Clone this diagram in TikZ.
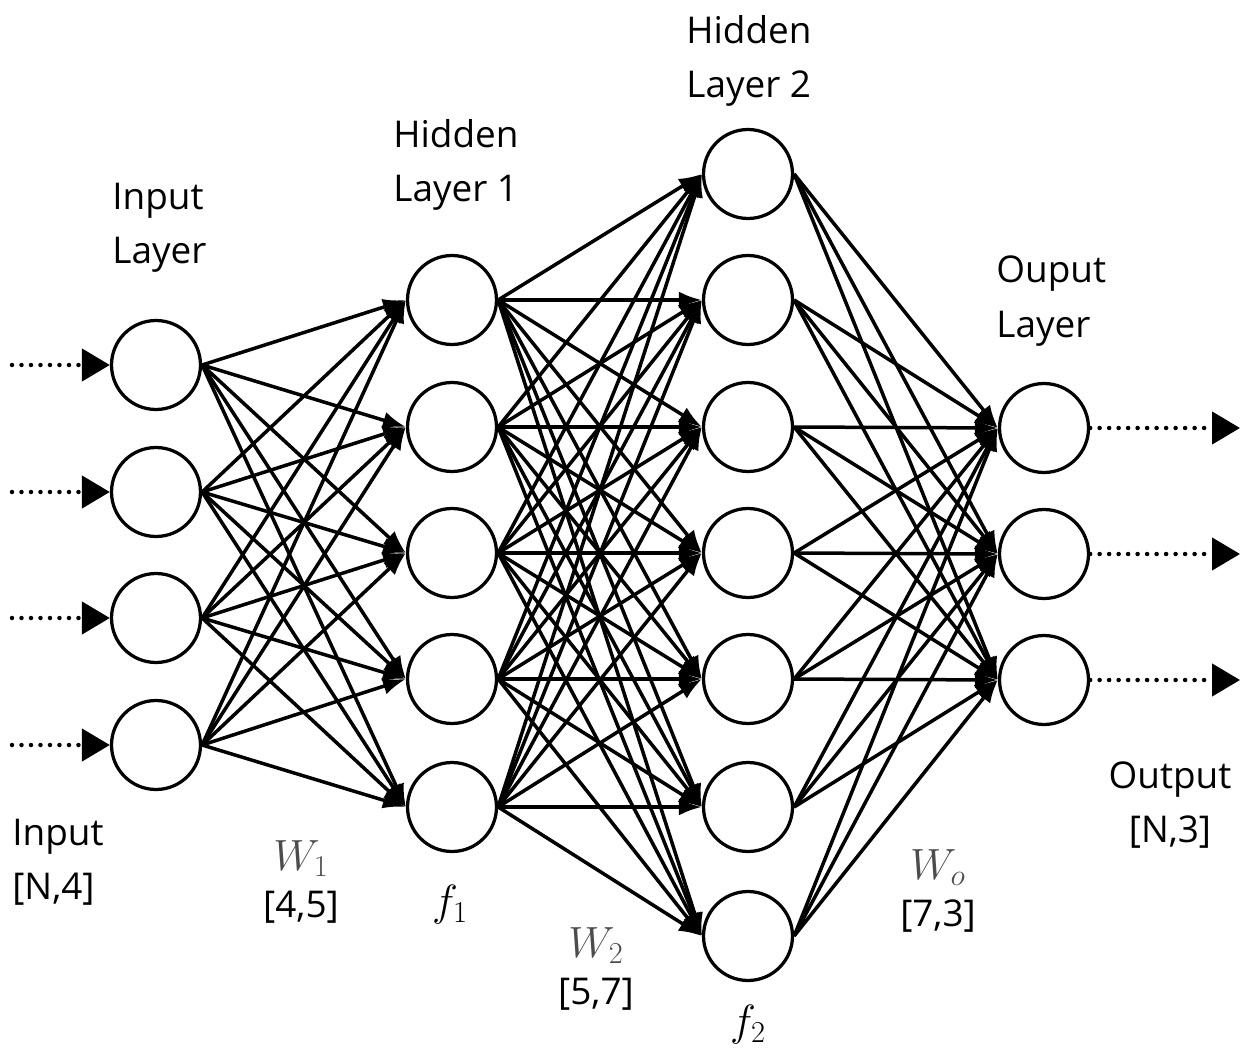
\documentclass[tikz,border=0pt]{standalone}
\usepackage{fontspec}
\setmainfont{Open Sans}
\usetikzlibrary{arrows.meta}

\begin{document}
\begin{tikzpicture}[x=0.02cm,y=-0.02cm]
            \tikzset{neuron/.style={draw=black,circle,line width=0.065cm,minimum size=1.78cm,inner sep=0pt},
                     link/.style={draw=black,line width=0.07cm,-{Latex[length=0.46cm,width=0.34cm]}},
                     feed/.style={draw=black,line width=0.09cm,line cap=round,dash pattern=on 0pt off 0.19cm,-{Triangle[length=0.56cm,width=0.64cm]}},
                     lbl/.style={inner sep=0pt,font=\fontsize{21}{31}\selectfont},
                     mathlbl/.style={inner sep=0pt,align=center,font=\fontsize{25}{27}\selectfont}}
            \useasboundingbox (0,0) rectangle (1250,1057);
            % input layer
            \node [neuron] (in1) at (156,365) {};
            \node [neuron] (in2) at (156,492) {};
            \node [neuron] (in3) at (156,618) {};
            \node [neuron] (in4) at (156,745) {};
            % hidden layer 1
            \node [neuron] (ha1) at (452,300) {};
            \node [neuron] (ha2) at (452,427) {};
            \node [neuron] (ha3) at (452,553) {};
            \node [neuron] (ha4) at (452,679) {};
            \node [neuron] (ha5) at (452,807) {};
            % hidden layer 2
            \node [neuron] (hb1) at (748,174) {};
            \node [neuron] (hb2) at (748,300) {};
            \node [neuron] (hb3) at (748,427) {};
            \node [neuron] (hb4) at (748,553) {};
            \node [neuron] (hb5) at (748,679) {};
            \node [neuron] (hb6) at (748,807) {};
            \node [neuron] (hb7) at (748,936) {};
            % output layer
            \node [neuron] (out1) at (1044,428) {};
            \node [neuron] (out2) at (1044,554) {};
            \node [neuron] (out3) at (1044,680) {};
            % free ends of the dotted arrows
            \coordinate (src1) at (12,365);
            \coordinate (src2) at (12,492);
            \coordinate (src3) at (12,618);
            \coordinate (src4) at (12,745);
            \coordinate (dst1) at (1240,428);
            \coordinate (dst2) at (1240,554);
            \coordinate (dst3) at (1240,680);
            \draw [feed] (src1) -- (in1.west);
            \draw [feed] (src2) -- (in2.west);
            \draw [feed] (src3) -- (in3.west);
            \draw [feed] (src4) -- (in4.west);
            \draw [feed] (out1.east) -- (dst1);
            \draw [feed] (out2.east) -- (dst2);
            \draw [feed] (out3.east) -- (dst3);
            % input -> hidden 1
            \draw [link] (in1.east) -- (ha1.west);
            \draw [link] (in1.east) -- (ha2.west);
            \draw [link] (in1.east) -- (ha3.west);
            \draw [link] (in1.east) -- (ha4.west);
            \draw [link] (in1.east) -- (ha5.west);
            \draw [link] (in2.east) -- (ha1.west);
            \draw [link] (in2.east) -- (ha2.west);
            \draw [link] (in2.east) -- (ha3.west);
            \draw [link] (in2.east) -- (ha4.west);
            \draw [link] (in2.east) -- (ha5.west);
            \draw [link] (in3.east) -- (ha1.west);
            \draw [link] (in3.east) -- (ha2.west);
            \draw [link] (in3.east) -- (ha3.west);
            \draw [link] (in3.east) -- (ha4.west);
            \draw [link] (in3.east) -- (ha5.west);
            \draw [link] (in4.east) -- (ha1.west);
            \draw [link] (in4.east) -- (ha2.west);
            \draw [link] (in4.east) -- (ha3.west);
            \draw [link] (in4.east) -- (ha4.west);
            \draw [link] (in4.east) -- (ha5.west);
            % hidden 1 -> hidden 2
            \draw [link] (ha1.east) -- (hb1.west);
            \draw [link] (ha1.east) -- (hb2.west);
            \draw [link] (ha1.east) -- (hb3.west);
            \draw [link] (ha1.east) -- (hb4.west);
            \draw [link] (ha1.east) -- (hb5.west);
            \draw [link] (ha1.east) -- (hb6.west);
            \draw [link] (ha1.east) -- (hb7.west);
            \draw [link] (ha2.east) -- (hb1.west);
            \draw [link] (ha2.east) -- (hb2.west);
            \draw [link] (ha2.east) -- (hb3.west);
            \draw [link] (ha2.east) -- (hb4.west);
            \draw [link] (ha2.east) -- (hb5.west);
            \draw [link] (ha2.east) -- (hb6.west);
            \draw [link] (ha2.east) -- (hb7.west);
            \draw [link] (ha3.east) -- (hb1.west);
            \draw [link] (ha3.east) -- (hb2.west);
            \draw [link] (ha3.east) -- (hb3.west);
            \draw [link] (ha3.east) -- (hb4.west);
            \draw [link] (ha3.east) -- (hb5.west);
            \draw [link] (ha3.east) -- (hb6.west);
            \draw [link] (ha3.east) -- (hb7.west);
            \draw [link] (ha4.east) -- (hb1.west);
            \draw [link] (ha4.east) -- (hb2.west);
            \draw [link] (ha4.east) -- (hb3.west);
            \draw [link] (ha4.east) -- (hb4.west);
            \draw [link] (ha4.east) -- (hb5.west);
            \draw [link] (ha4.east) -- (hb6.west);
            \draw [link] (ha4.east) -- (hb7.west);
            \draw [link] (ha5.east) -- (hb1.west);
            \draw [link] (ha5.east) -- (hb2.west);
            \draw [link] (ha5.east) -- (hb3.west);
            \draw [link] (ha5.east) -- (hb4.west);
            \draw [link] (ha5.east) -- (hb5.west);
            \draw [link] (ha5.east) -- (hb6.west);
            \draw [link] (ha5.east) -- (hb7.west);
            % hidden 2 -> output
            \draw [link] (hb1.east) -- (out1.west);
            \draw [link] (hb1.east) -- (out2.west);
            \draw [link] (hb1.east) -- (out3.west);
            \draw [link] (hb2.east) -- (out1.west);
            \draw [link] (hb2.east) -- (out2.west);
            \draw [link] (hb2.east) -- (out3.west);
            \draw [link] (hb3.east) -- (out1.west);
            \draw [link] (hb3.east) -- (out2.west);
            \draw [link] (hb3.east) -- (out3.west);
            \draw [link] (hb4.east) -- (out1.west);
            \draw [link] (hb4.east) -- (out2.west);
            \draw [link] (hb4.east) -- (out3.west);
            \draw [link] (hb5.east) -- (out1.west);
            \draw [link] (hb5.east) -- (out2.west);
            \draw [link] (hb5.east) -- (out3.west);
            \draw [link] (hb6.east) -- (out1.west);
            \draw [link] (hb6.east) -- (out2.west);
            \draw [link] (hb6.east) -- (out3.west);
            \draw [link] (hb7.east) -- (out1.west);
            \draw [link] (hb7.east) -- (out2.west);
            \draw [link] (hb7.east) -- (out3.west);
            % labels
            \node [lbl,align=left,anchor=west] (lblin) at (112,228) {Input\\Layer};
            \node [lbl,align=left,anchor=west] (lblha) at (393,165) {Hidden\\Layer 1};
            \node [lbl,align=left,anchor=west] (lblhb) at (686,61) {Hidden\\Layer 2};
            \node [lbl,align=left,anchor=west] (lblout) at (996,301) {Ouput\\Layer};
            \node [lbl,align=left,anchor=west] (dimin) at (12,862) {Input\\{[N,4]}};
            \node [lbl,align=center] (dimout) at (1170,805) {Output\\{[N,3]}};
            \node [mathlbl] (lblw1) at (301,882) {\textcolor{black!70}{$W_1$}\\\fontsize{21}{27}\selectfont{[4,5]}};
            \node [mathlbl] (lblw2) at (596,969) {\textcolor{black!70}{$W_2$}\\\fontsize{21}{27}\selectfont{[5,7]}};
            \node [mathlbl] (lblwo) at (938,891) {\textcolor{black!70}{$W_o$}\\\fontsize{21}{27}\selectfont{[7,3]}};
            \node [mathlbl] (lblf1) at (450,905) {$f_1$};
            \node [mathlbl] (lblf2) at (748,1025) {$f_2$};
        \end{tikzpicture}
\end{document}
